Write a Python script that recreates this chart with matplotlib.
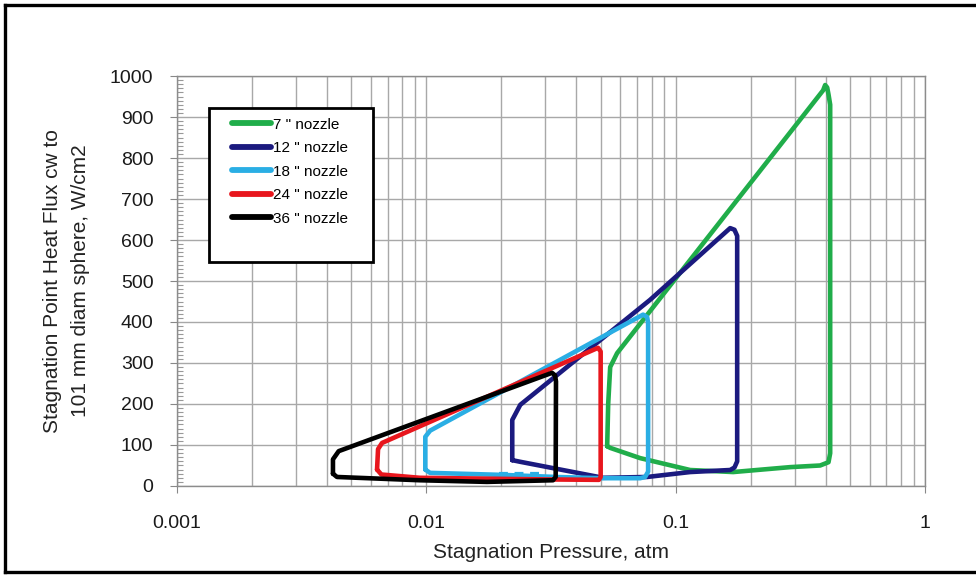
import numpy as np
import matplotlib.pyplot as plt
from matplotlib.patches import Rectangle
from matplotlib.lines import Line2D
from matplotlib.ticker import FixedLocator, MultipleLocator, NullFormatter

plt.rcParams['font.family'] = ['Liberation Sans', 'DejaVu Sans']

# ---- data (pressure in atm, heat flux in W/cm2) ----
labels = ['7 " nozzle', '12 " nozzle', '18 " nozzle', '24 " nozzle', '36 " nozzle']
colors = ['#20ad4a', '#1b1a7f', '#2aaee4', '#e8161d', '#000000']

p_7 = [0.0531, 0.0536, 0.0546, 0.0582, 0.390, 0.3975, 0.405, 0.410, 0.4164, 0.4164,
       0.410, 0.3795, 0.2877, 0.170, 0.1142, 0.0720, 0.0546, 0.0531]
q_7 = [97, 200, 290, 324, 965, 978, 972, 955, 930, 80,
       58, 50, 46, 34, 39, 68, 93, 97]

p_12 = [0.0221, 0.0221, 0.0238, 0.0789, 0.1653, 0.172, 0.1764, 0.1764, 0.172, 0.1653,
        0.1142, 0.0768, 0.0511, 0.0238, 0.0221]
q_12 = [63, 161, 198, 454, 629, 625, 610, 60, 45, 39,
        34, 22, 20, 59, 63]

p_18 = [0.0099, 0.0099, 0.01035, 0.0740, 0.0768, 0.0775, 0.0775, 0.0754, 0.0720,
        0.050, 0.0331, 0.0203, 0.01035, 0.0099]
q_18 = [40, 120, 135, 418, 412, 398, 35, 22, 19,
        19, 22, 27, 32, 40]

p_24 = [0.00634, 0.00640, 0.00664, 0.0488, 0.0500, 0.0500, 0.0492, 0.0300, 0.0094,
        0.0066, 0.00634]
q_24 = [40, 90, 105, 337, 328, 22, 15, 16, 20, 28, 40]

p_36 = [0.00422, 0.00422, 0.00445, 0.0319, 0.0328, 0.0331, 0.0330, 0.0322, 0.0175,
        0.0094, 0.00438, 0.00422]
q_36 = [30, 65, 85, 276, 270, 255, 22, 14, 10, 14, 22, 30]

# short dashed light-blue trace near the bottom
p_dash = [0.0196, 0.0290]
q_dash = [32, 32]

series = [(p_7, q_7), (p_12, q_12), (p_18, q_18), (p_24, q_24), (p_36, q_36)]

fig = plt.figure(figsize=(9.76, 5.75), dpi=100)
ax = fig.add_axes([0.1814, 0.1548, 0.7664, 0.7130])

ax.set_xscale('log')
ax.set_xlim(0.001, 1)
ax.set_ylim(0, 1000)

handles = []
for (p, q), c, lab in zip(series, colors, labels):
    h, = ax.plot(p, q, color=c, lw=3.3, solid_joinstyle='round',
                 solid_capstyle='round', label=lab)
    handles.append(h)
ax.plot(p_dash, q_dash, color=colors[2], lw=1.6, ls=(0, (4, 3)))

# grid and ticks
grid_c = '#a8a8a8'
ax.xaxis.set_major_locator(FixedLocator([0.001, 0.01, 0.1, 1]))
ax.set_xticklabels(['0.001', '0.01', '0.1', '1'])
minors = [m * d for d in [0.001, 0.01, 0.1] for m in range(2, 10)]
ax.xaxis.set_minor_locator(FixedLocator(minors))
ax.xaxis.set_minor_formatter(NullFormatter())
ax.yaxis.set_major_locator(MultipleLocator(100))
ax.yaxis.set_minor_locator(MultipleLocator(10))
ax.grid(True, which='major', color=grid_c, lw=1.0)
ax.grid(True, which='minor', axis='x', color=grid_c, lw=1.0)
ax.set_axisbelow(True)

ax.tick_params(axis='both', which='major', direction='out', length=5,
               color='#888888', labelsize=14, labelcolor='#1a1a1a')
ax.tick_params(axis='x', which='major', pad=16)
ax.tick_params(axis='y', which='major', pad=12)
ax.tick_params(axis='x', which='minor', length=0)
ax.tick_params(axis='y', which='minor', direction='in', length=4,
               color='#999999', width=0.8)
for s in ax.spines.values():
    s.set_color('#8c8c8c')
    s.set_linewidth(1.0)

ax.set_xlabel('Stagnation Pressure, atm', fontsize=15, color='#222222', labelpad=8)
ax.set_ylabel('Stagnation Point Heat Flux cw to\n101 mm diam sphere, W/cm2',
              fontsize=15, color='#222222', linespacing=1.65, labelpad=14)

# legend: framed box taller than its entries
ax.add_patch(Rectangle((0.0428, 0.546), 0.2192, 0.376, transform=ax.transAxes,
                       facecolor='white', edgecolor='black', lw=2.0, zorder=5))
leg = ax.legend(handles=handles, loc='upper left', bbox_to_anchor=(0.073, 0.898),
                frameon=False, fontsize=11, handlelength=2.6, handletextpad=0.12,
                labelspacing=0.62, borderpad=0, borderaxespad=0)
leg.set_zorder(6)
for lh in leg.get_lines():
    lh.set_linewidth(4.2)

# figure frame (open on the right, like the reference)
fc = 'black'
fig.add_artist(Line2D([0.0051, 1.0], [0.9913, 0.9913], transform=fig.transFigure, color=fc, lw=2.4))
fig.add_artist(Line2D([0.0051, 1.0], [0.0052, 0.0052], transform=fig.transFigure, color=fc, lw=2.4))
fig.add_artist(Line2D([0.0051, 0.0051], [0.0052, 0.9913], transform=fig.transFigure, color=fc, lw=2.4))

fig.savefig('out.png', dpi=100, facecolor='white')
